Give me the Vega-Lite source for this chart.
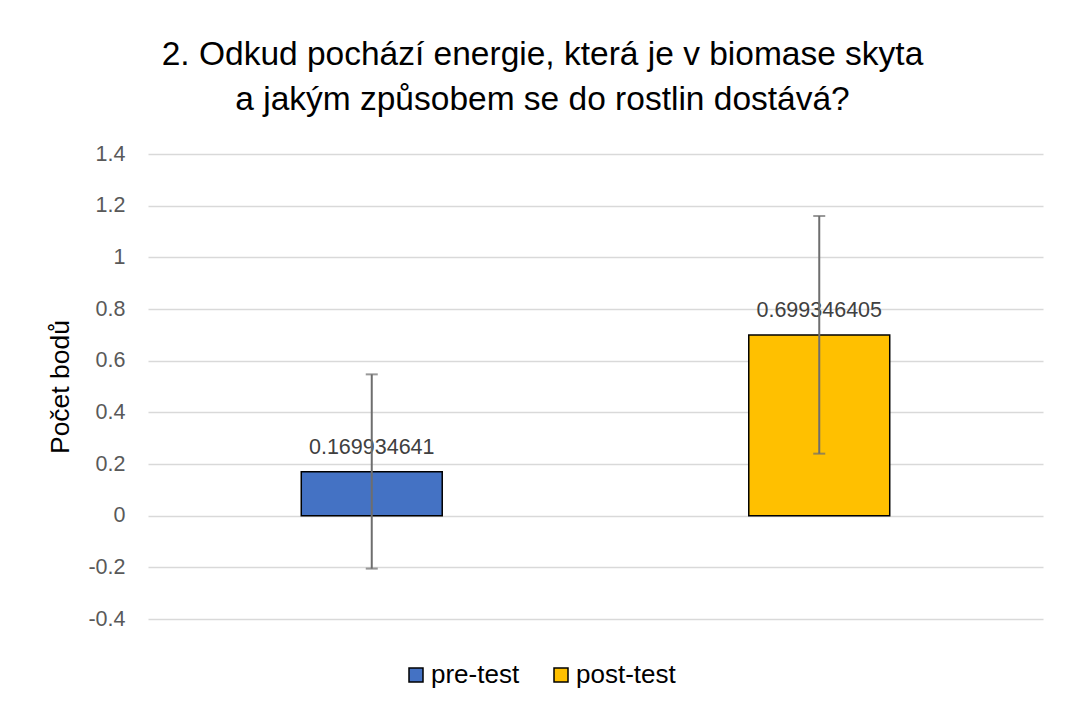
{
  "$schema": "https://vega.github.io/schema/vega-lite/v6.json",
  "autosize": "none",
  "width": 895,
  "height": 465,
  "padding": {"left": 148, "top": 154, "right": 24, "bottom": 89},
  "background": "white",
  "config": {
    "font": "Liberation Sans",
    "view": {"stroke": null}
  },
  "title": {
    "text": ["2. Odkud pochází energie, která je v biomase skyta", "a jakým způsobem se do rostlin dostává?"],
    "fontSize": 33.5,
    "fontWeight": "normal",
    "font": "Liberation Sans",
    "color": "#000000",
    "lineHeight": 45,
    "anchor": "middle",
    "dx": -53,
    "offset": 26
  },
  "data": {
    "values": [
      {"test": "pre-test", "mean": 0.169934641, "lo": -0.205, "hi": 0.547},
      {"test": "post-test", "mean": 0.699346405, "lo": 0.240, "hi": 1.160}
    ]
  },
  "encoding": {
    "x": {
      "field": "test",
      "type": "nominal",
      "sort": ["pre-test", "post-test"],
      "scale": {"paddingInner": 0.685, "paddingOuter": 0.3425},
      "axis": null
    }
  },
  "layer": [
    {
      "mark": {"type": "bar", "stroke": "#000000", "strokeWidth": 1.5},
      "encoding": {
        "y": {
          "field": "mean",
          "type": "quantitative",
          "scale": {"domain": [-0.4, 1.4], "nice": false, "zero": false},
          "axis": {
            "values": [-0.4, -0.2, 0, 0.2, 0.4, 0.6, 0.8, 1, 1.2, 1.4],
            "labelExpr": "'' + datum.value",
            "title": "Počet bodů",
            "titleFontSize": 26.5,
            "titleFontWeight": "normal",
            "titleColor": "#000000",
            "titlePadding": 13,
            "labelFontSize": 21.5,
            "labelColor": "#595959",
            "labelPadding": 23,
            "grid": true,
            "gridColor": "#D9D9D9",
            "gridWidth": 1.3,
            "domain": false,
            "ticks": false
          }
        },
        "color": {
          "field": "test",
          "type": "nominal",
          "scale": {"domain": ["pre-test", "post-test"], "range": ["#4472C4", "#FFC000"]},
          "legend": {
            "title": null,
            "orient": "none",
            "direction": "horizontal",
            "legendX": 255,
            "legendY": 508,
            "symbolType": "square",
            "symbolSize": 196,
            "symbolStrokeColor": "#000000",
            "symbolStrokeWidth": 1.5,
            "labelFontSize": 26,
            "labelColor": "#000000",
            "labelOffset": 2,
            "columnPadding": 28
          }
        }
      }
    },
    {
      "mark": {"type": "text", "baseline": "alphabetic", "dy": -18, "fontSize": 21.5, "color": "#404040"},
      "encoding": {
        "y": {"field": "mean", "type": "quantitative"},
        "text": {"field": "mean", "type": "quantitative", "format": ".9f"}
      }
    },
    {
      "mark": {"type": "rule", "color": "#6E6E6E", "strokeWidth": 2},
      "encoding": {
        "y": {"field": "lo", "type": "quantitative"},
        "y2": {"field": "hi"}
      }
    },
    {
      "mark": {"type": "tick", "color": "#6E6E6E", "size": 12, "thickness": 2},
      "encoding": {
        "y": {"field": "lo", "type": "quantitative"}
      }
    },
    {
      "mark": {"type": "tick", "color": "#6E6E6E", "size": 12, "thickness": 2},
      "encoding": {
        "y": {"field": "hi", "type": "quantitative"}
      }
    }
  ]
}
